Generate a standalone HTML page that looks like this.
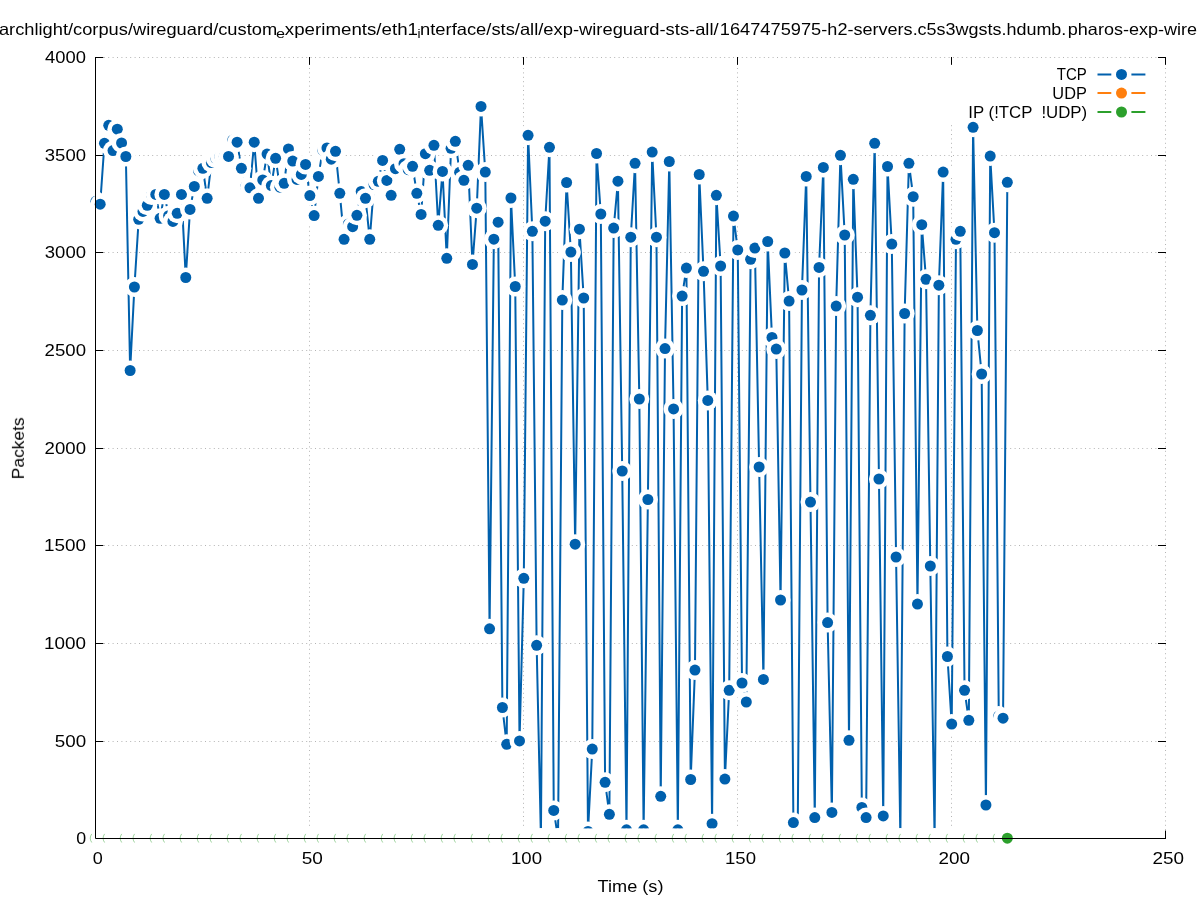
<!DOCTYPE html><html><head><meta charset="utf-8"><style>html,body{margin:0;padding:0;background:#fff;overflow:hidden}svg{display:block}text{font-family:"Liberation Sans",sans-serif;fill:#000}</style></head><body>
<svg width="1197" height="900" viewBox="0 0 1197 900">
<rect width="1197" height="900" fill="#fff"/>
<path d="M309.5 838.5V57M523.5 838.5V57M737.5 838.5V57M951.5 838.5V57M1165.5 838.5V57" stroke="#b4b4b4" stroke-width="1" stroke-dasharray="1 3.4" stroke-dashoffset="0.5" fill="none"/>
<path d="M95.5 741.5H1166M95.5 643.5H1166M95.5 545.5H1166M95.5 448.5H1166M95.5 350.5H1166M95.5 252.5H1166M95.5 155.5H1166M95.5 57.5H1166" stroke="#b4b4b4" stroke-width="1" stroke-dasharray="1 3.4" stroke-dashoffset="0.5" fill="none"/>
<rect x="944" y="65" width="212" height="58.5" fill="#fff"/>
<path d="M95 838.5H103.3M1166 838.5H1158M95 741.5H103.3M1166 741.5H1158M95 643.5H103.3M1166 643.5H1158M95 545.5H103.3M1166 545.5H1158M95 448.5H103.3M1166 448.5H1158M95 350.5H103.3M1166 350.5H1158M95 252.5H103.3M1166 252.5H1158M95 155.5H103.3M1166 155.5H1158M95 57.5H103.3M1166 57.5H1158M95.5 839V830.6M95.5 57V64.8M309.5 839V830.6M309.5 57V64.8M523.5 839V830.6M523.5 57V64.8M737.5 839V830.6M737.5 57V64.8M951.5 839V830.6M951.5 57V64.8M1165.5 839V830.6M1165.5 57V64.8" stroke="#000" stroke-width="1" fill="none"/>
<polyline fill="none" stroke="#0060ad" stroke-width="2.0" stroke-linejoin="round" points="95.90,201.30 100.18,204.20 104.46,143.30 108.74,125.30 113.02,150.60 117.30,129.20 121.57,143.00 125.85,156.50 130.13,370.50 134.41,287.00 138.69,219.30 142.97,211.40 147.25,205.30 151.53,195.00 155.81,194.40 160.09,218.30 164.36,194.40 168.64,215.70 172.92,221.40 177.20,213.30 181.48,194.40 185.76,277.50 190.04,209.40 194.32,186.40 198.60,170.80 202.88,168.30 207.15,198.30 211.43,162.50 215.71,158.30 219.99,156.50 224.27,156.40 228.55,156.40 232.83,140.00 237.11,142.20 241.39,168.30 245.66,186.70 249.94,187.80 254.22,142.20 258.50,198.30 262.78,180.00 267.06,154.10 271.34,185.60 275.62,158.30 279.90,187.20 284.18,183.30 288.46,148.90 292.73,161.10 297.01,179.40 301.29,174.40 305.57,164.40 309.85,195.60 314.13,215.60 318.41,176.40 322.69,150.00 326.97,148.00 331.25,159.20 335.52,151.30 339.80,193.30 344.08,239.30 348.36,224.00 352.64,226.70 356.92,215.30 361.20,191.50 365.48,198.30 369.76,239.30 374.03,184.50 378.31,181.30 382.59,160.40 386.87,180.40 391.15,195.30 395.43,168.70 399.71,149.30 403.99,163.70 408.27,169.70 412.55,166.30 416.83,193.30 421.10,214.40 425.38,153.70 429.66,170.30 433.94,145.30 438.22,225.30 442.50,171.40 446.78,258.30 451.06,148.30 455.34,141.30 459.62,172.30 463.89,180.30 468.17,165.30 472.45,264.40 476.73,208.20 481.01,106.40 485.29,172.10 489.57,628.80 493.85,239.20 498.13,222.20 502.40,707.50 506.68,744.30 510.96,198.00 515.24,286.50 519.52,740.90 523.80,578.30 528.08,135.30 532.36,231.30 536.64,645.30 540.92,838.00 545.20,221.20 549.47,147.30 553.75,810.40 558.03,838.00 562.31,300.10 566.59,182.50 570.87,252.10 575.15,544.20 579.43,229.20 583.71,298.00 587.99,831.50 592.26,749.10 596.54,153.50 600.82,214.00 605.10,782.30 609.38,814.30 613.66,228.10 617.94,181.20 622.22,471.00 626.50,829.80 630.77,237.20 635.05,163.30 639.33,399.00 643.61,829.80 647.89,499.50 652.17,152.10 656.45,237.20 660.73,796.30 665.01,348.60 669.29,161.50 673.56,408.90 677.84,829.80 682.12,296.10 686.40,268.10 690.68,779.50 694.96,670.10 699.24,174.50 703.52,271.30 707.80,400.40 712.08,823.70 716.36,195.30 720.63,266.00 724.91,779.10 729.19,690.30 733.47,216.10 737.75,250.00 742.03,683.00 746.31,702.00 750.59,259.30 754.87,248.10 759.14,467.00 763.42,679.40 767.70,241.50 771.98,337.40 776.26,349.10 780.54,600.00 784.82,253.00 789.10,301.10 793.38,822.60 797.66,838.00 801.93,290.00 806.21,176.40 810.49,502.10 814.77,817.60 819.05,267.40 823.33,167.40 827.61,622.60 831.89,812.40 836.17,306.10 840.45,155.30 844.72,235.00 849.00,740.30 853.28,179.30 857.56,297.20 861.84,807.40 866.12,817.60 870.40,315.30 874.68,143.30 878.96,479.00 883.24,815.90 887.51,166.50 891.79,244.10 896.07,557.00 900.35,838.00 904.63,313.50 908.91,163.30 913.19,196.70 917.47,604.10 921.75,224.70 926.03,279.30 930.30,566.00 934.58,838.00 938.86,285.20 943.14,172.10 947.42,656.50 951.70,724.10 955.98,239.30 960.26,231.30 964.54,690.30 968.82,720.30 973.09,127.30 977.37,330.50 981.65,374.00 985.93,805.00 990.21,156.10 994.49,232.70 998.77,716.00 1003.05,718.20 1007.33,182.30"/>
<circle cx="95.90" cy="201.30" r="10.0" fill="#fff"/><circle cx="95.90" cy="201.30" r="5.5" fill="#0060ad"/>
<circle cx="100.18" cy="204.20" r="10.0" fill="#fff"/><circle cx="100.18" cy="204.20" r="5.5" fill="#0060ad"/>
<circle cx="104.46" cy="143.30" r="10.0" fill="#fff"/><circle cx="104.46" cy="143.30" r="5.5" fill="#0060ad"/>
<circle cx="108.74" cy="125.30" r="10.0" fill="#fff"/><circle cx="108.74" cy="125.30" r="5.5" fill="#0060ad"/>
<circle cx="113.02" cy="150.60" r="10.0" fill="#fff"/><circle cx="113.02" cy="150.60" r="5.5" fill="#0060ad"/>
<circle cx="117.30" cy="129.20" r="10.0" fill="#fff"/><circle cx="117.30" cy="129.20" r="5.5" fill="#0060ad"/>
<circle cx="121.57" cy="143.00" r="10.0" fill="#fff"/><circle cx="121.57" cy="143.00" r="5.5" fill="#0060ad"/>
<circle cx="125.85" cy="156.50" r="10.0" fill="#fff"/><circle cx="125.85" cy="156.50" r="5.5" fill="#0060ad"/>
<circle cx="130.13" cy="370.50" r="10.0" fill="#fff"/><circle cx="130.13" cy="370.50" r="5.5" fill="#0060ad"/>
<circle cx="134.41" cy="287.00" r="10.0" fill="#fff"/><circle cx="134.41" cy="287.00" r="5.5" fill="#0060ad"/>
<circle cx="138.69" cy="219.30" r="10.0" fill="#fff"/><circle cx="138.69" cy="219.30" r="5.5" fill="#0060ad"/>
<circle cx="142.97" cy="211.40" r="10.0" fill="#fff"/><circle cx="142.97" cy="211.40" r="5.5" fill="#0060ad"/>
<circle cx="147.25" cy="205.30" r="10.0" fill="#fff"/><circle cx="147.25" cy="205.30" r="5.5" fill="#0060ad"/>
<circle cx="151.53" cy="195.00" r="10.0" fill="#fff"/><circle cx="151.53" cy="195.00" r="5.5" fill="#0060ad"/>
<circle cx="155.81" cy="194.40" r="10.0" fill="#fff"/><circle cx="155.81" cy="194.40" r="5.5" fill="#0060ad"/>
<circle cx="160.09" cy="218.30" r="10.0" fill="#fff"/><circle cx="160.09" cy="218.30" r="5.5" fill="#0060ad"/>
<circle cx="164.36" cy="194.40" r="10.0" fill="#fff"/><circle cx="164.36" cy="194.40" r="5.5" fill="#0060ad"/>
<circle cx="168.64" cy="215.70" r="10.0" fill="#fff"/><circle cx="168.64" cy="215.70" r="5.5" fill="#0060ad"/>
<circle cx="172.92" cy="221.40" r="10.0" fill="#fff"/><circle cx="172.92" cy="221.40" r="5.5" fill="#0060ad"/>
<circle cx="177.20" cy="213.30" r="10.0" fill="#fff"/><circle cx="177.20" cy="213.30" r="5.5" fill="#0060ad"/>
<circle cx="181.48" cy="194.40" r="10.0" fill="#fff"/><circle cx="181.48" cy="194.40" r="5.5" fill="#0060ad"/>
<circle cx="185.76" cy="277.50" r="10.0" fill="#fff"/><circle cx="185.76" cy="277.50" r="5.5" fill="#0060ad"/>
<circle cx="190.04" cy="209.40" r="10.0" fill="#fff"/><circle cx="190.04" cy="209.40" r="5.5" fill="#0060ad"/>
<circle cx="194.32" cy="186.40" r="10.0" fill="#fff"/><circle cx="194.32" cy="186.40" r="5.5" fill="#0060ad"/>
<circle cx="198.60" cy="170.80" r="10.0" fill="#fff"/><circle cx="198.60" cy="170.80" r="5.5" fill="#0060ad"/>
<circle cx="202.88" cy="168.30" r="10.0" fill="#fff"/><circle cx="202.88" cy="168.30" r="5.5" fill="#0060ad"/>
<circle cx="207.15" cy="198.30" r="10.0" fill="#fff"/><circle cx="207.15" cy="198.30" r="5.5" fill="#0060ad"/>
<circle cx="211.43" cy="162.50" r="10.0" fill="#fff"/><circle cx="211.43" cy="162.50" r="5.5" fill="#0060ad"/>
<circle cx="215.71" cy="158.30" r="10.0" fill="#fff"/><circle cx="215.71" cy="158.30" r="5.5" fill="#0060ad"/>
<circle cx="219.99" cy="156.50" r="10.0" fill="#fff"/><circle cx="219.99" cy="156.50" r="5.5" fill="#0060ad"/>
<circle cx="224.27" cy="156.40" r="10.0" fill="#fff"/><circle cx="224.27" cy="156.40" r="5.5" fill="#0060ad"/>
<circle cx="228.55" cy="156.40" r="10.0" fill="#fff"/><circle cx="228.55" cy="156.40" r="5.5" fill="#0060ad"/>
<circle cx="232.83" cy="140.00" r="10.0" fill="#fff"/><circle cx="232.83" cy="140.00" r="5.5" fill="#0060ad"/>
<circle cx="237.11" cy="142.20" r="10.0" fill="#fff"/><circle cx="237.11" cy="142.20" r="5.5" fill="#0060ad"/>
<circle cx="241.39" cy="168.30" r="10.0" fill="#fff"/><circle cx="241.39" cy="168.30" r="5.5" fill="#0060ad"/>
<circle cx="245.66" cy="186.70" r="10.0" fill="#fff"/><circle cx="245.66" cy="186.70" r="5.5" fill="#0060ad"/>
<circle cx="249.94" cy="187.80" r="10.0" fill="#fff"/><circle cx="249.94" cy="187.80" r="5.5" fill="#0060ad"/>
<circle cx="254.22" cy="142.20" r="10.0" fill="#fff"/><circle cx="254.22" cy="142.20" r="5.5" fill="#0060ad"/>
<circle cx="258.50" cy="198.30" r="10.0" fill="#fff"/><circle cx="258.50" cy="198.30" r="5.5" fill="#0060ad"/>
<circle cx="262.78" cy="180.00" r="10.0" fill="#fff"/><circle cx="262.78" cy="180.00" r="5.5" fill="#0060ad"/>
<circle cx="267.06" cy="154.10" r="10.0" fill="#fff"/><circle cx="267.06" cy="154.10" r="5.5" fill="#0060ad"/>
<circle cx="271.34" cy="185.60" r="10.0" fill="#fff"/><circle cx="271.34" cy="185.60" r="5.5" fill="#0060ad"/>
<circle cx="275.62" cy="158.30" r="10.0" fill="#fff"/><circle cx="275.62" cy="158.30" r="5.5" fill="#0060ad"/>
<circle cx="279.90" cy="187.20" r="10.0" fill="#fff"/><circle cx="279.90" cy="187.20" r="5.5" fill="#0060ad"/>
<circle cx="284.18" cy="183.30" r="10.0" fill="#fff"/><circle cx="284.18" cy="183.30" r="5.5" fill="#0060ad"/>
<circle cx="288.46" cy="148.90" r="10.0" fill="#fff"/><circle cx="288.46" cy="148.90" r="5.5" fill="#0060ad"/>
<circle cx="292.73" cy="161.10" r="10.0" fill="#fff"/><circle cx="292.73" cy="161.10" r="5.5" fill="#0060ad"/>
<circle cx="297.01" cy="179.40" r="10.0" fill="#fff"/><circle cx="297.01" cy="179.40" r="5.5" fill="#0060ad"/>
<circle cx="301.29" cy="174.40" r="10.0" fill="#fff"/><circle cx="301.29" cy="174.40" r="5.5" fill="#0060ad"/>
<circle cx="305.57" cy="164.40" r="10.0" fill="#fff"/><circle cx="305.57" cy="164.40" r="5.5" fill="#0060ad"/>
<circle cx="309.85" cy="195.60" r="10.0" fill="#fff"/><circle cx="309.85" cy="195.60" r="5.5" fill="#0060ad"/>
<circle cx="314.13" cy="215.60" r="10.0" fill="#fff"/><circle cx="314.13" cy="215.60" r="5.5" fill="#0060ad"/>
<circle cx="318.41" cy="176.40" r="10.0" fill="#fff"/><circle cx="318.41" cy="176.40" r="5.5" fill="#0060ad"/>
<circle cx="322.69" cy="150.00" r="10.0" fill="#fff"/><circle cx="322.69" cy="150.00" r="5.5" fill="#0060ad"/>
<circle cx="326.97" cy="148.00" r="10.0" fill="#fff"/><circle cx="326.97" cy="148.00" r="5.5" fill="#0060ad"/>
<circle cx="331.25" cy="159.20" r="10.0" fill="#fff"/><circle cx="331.25" cy="159.20" r="5.5" fill="#0060ad"/>
<circle cx="335.52" cy="151.30" r="10.0" fill="#fff"/><circle cx="335.52" cy="151.30" r="5.5" fill="#0060ad"/>
<circle cx="339.80" cy="193.30" r="10.0" fill="#fff"/><circle cx="339.80" cy="193.30" r="5.5" fill="#0060ad"/>
<circle cx="344.08" cy="239.30" r="10.0" fill="#fff"/><circle cx="344.08" cy="239.30" r="5.5" fill="#0060ad"/>
<circle cx="348.36" cy="224.00" r="10.0" fill="#fff"/><circle cx="348.36" cy="224.00" r="5.5" fill="#0060ad"/>
<circle cx="352.64" cy="226.70" r="10.0" fill="#fff"/><circle cx="352.64" cy="226.70" r="5.5" fill="#0060ad"/>
<circle cx="356.92" cy="215.30" r="10.0" fill="#fff"/><circle cx="356.92" cy="215.30" r="5.5" fill="#0060ad"/>
<circle cx="361.20" cy="191.50" r="10.0" fill="#fff"/><circle cx="361.20" cy="191.50" r="5.5" fill="#0060ad"/>
<circle cx="365.48" cy="198.30" r="10.0" fill="#fff"/><circle cx="365.48" cy="198.30" r="5.5" fill="#0060ad"/>
<circle cx="369.76" cy="239.30" r="10.0" fill="#fff"/><circle cx="369.76" cy="239.30" r="5.5" fill="#0060ad"/>
<circle cx="374.03" cy="184.50" r="10.0" fill="#fff"/><circle cx="374.03" cy="184.50" r="5.5" fill="#0060ad"/>
<circle cx="378.31" cy="181.30" r="10.0" fill="#fff"/><circle cx="378.31" cy="181.30" r="5.5" fill="#0060ad"/>
<circle cx="382.59" cy="160.40" r="10.0" fill="#fff"/><circle cx="382.59" cy="160.40" r="5.5" fill="#0060ad"/>
<circle cx="386.87" cy="180.40" r="10.0" fill="#fff"/><circle cx="386.87" cy="180.40" r="5.5" fill="#0060ad"/>
<circle cx="391.15" cy="195.30" r="10.0" fill="#fff"/><circle cx="391.15" cy="195.30" r="5.5" fill="#0060ad"/>
<circle cx="395.43" cy="168.70" r="10.0" fill="#fff"/><circle cx="395.43" cy="168.70" r="5.5" fill="#0060ad"/>
<circle cx="399.71" cy="149.30" r="10.0" fill="#fff"/><circle cx="399.71" cy="149.30" r="5.5" fill="#0060ad"/>
<circle cx="403.99" cy="163.70" r="10.0" fill="#fff"/><circle cx="403.99" cy="163.70" r="5.5" fill="#0060ad"/>
<circle cx="408.27" cy="169.70" r="10.0" fill="#fff"/><circle cx="408.27" cy="169.70" r="5.5" fill="#0060ad"/>
<circle cx="412.55" cy="166.30" r="10.0" fill="#fff"/><circle cx="412.55" cy="166.30" r="5.5" fill="#0060ad"/>
<circle cx="416.83" cy="193.30" r="10.0" fill="#fff"/><circle cx="416.83" cy="193.30" r="5.5" fill="#0060ad"/>
<circle cx="421.10" cy="214.40" r="10.0" fill="#fff"/><circle cx="421.10" cy="214.40" r="5.5" fill="#0060ad"/>
<circle cx="425.38" cy="153.70" r="10.0" fill="#fff"/><circle cx="425.38" cy="153.70" r="5.5" fill="#0060ad"/>
<circle cx="429.66" cy="170.30" r="10.0" fill="#fff"/><circle cx="429.66" cy="170.30" r="5.5" fill="#0060ad"/>
<circle cx="433.94" cy="145.30" r="10.0" fill="#fff"/><circle cx="433.94" cy="145.30" r="5.5" fill="#0060ad"/>
<circle cx="438.22" cy="225.30" r="10.0" fill="#fff"/><circle cx="438.22" cy="225.30" r="5.5" fill="#0060ad"/>
<circle cx="442.50" cy="171.40" r="10.0" fill="#fff"/><circle cx="442.50" cy="171.40" r="5.5" fill="#0060ad"/>
<circle cx="446.78" cy="258.30" r="10.0" fill="#fff"/><circle cx="446.78" cy="258.30" r="5.5" fill="#0060ad"/>
<circle cx="451.06" cy="148.30" r="10.0" fill="#fff"/><circle cx="451.06" cy="148.30" r="5.5" fill="#0060ad"/>
<circle cx="455.34" cy="141.30" r="10.0" fill="#fff"/><circle cx="455.34" cy="141.30" r="5.5" fill="#0060ad"/>
<circle cx="459.62" cy="172.30" r="10.0" fill="#fff"/><circle cx="459.62" cy="172.30" r="5.5" fill="#0060ad"/>
<circle cx="463.89" cy="180.30" r="10.0" fill="#fff"/><circle cx="463.89" cy="180.30" r="5.5" fill="#0060ad"/>
<circle cx="468.17" cy="165.30" r="10.0" fill="#fff"/><circle cx="468.17" cy="165.30" r="5.5" fill="#0060ad"/>
<circle cx="472.45" cy="264.40" r="10.0" fill="#fff"/><circle cx="472.45" cy="264.40" r="5.5" fill="#0060ad"/>
<circle cx="476.73" cy="208.20" r="10.0" fill="#fff"/><circle cx="476.73" cy="208.20" r="5.5" fill="#0060ad"/>
<circle cx="481.01" cy="106.40" r="10.0" fill="#fff"/><circle cx="481.01" cy="106.40" r="5.5" fill="#0060ad"/>
<circle cx="485.29" cy="172.10" r="10.0" fill="#fff"/><circle cx="485.29" cy="172.10" r="5.5" fill="#0060ad"/>
<circle cx="489.57" cy="628.80" r="10.0" fill="#fff"/><circle cx="489.57" cy="628.80" r="5.5" fill="#0060ad"/>
<circle cx="493.85" cy="239.20" r="10.0" fill="#fff"/><circle cx="493.85" cy="239.20" r="5.5" fill="#0060ad"/>
<circle cx="498.13" cy="222.20" r="10.0" fill="#fff"/><circle cx="498.13" cy="222.20" r="5.5" fill="#0060ad"/>
<circle cx="502.40" cy="707.50" r="10.0" fill="#fff"/><circle cx="502.40" cy="707.50" r="5.5" fill="#0060ad"/>
<circle cx="506.68" cy="744.30" r="10.0" fill="#fff"/><circle cx="506.68" cy="744.30" r="5.5" fill="#0060ad"/>
<circle cx="510.96" cy="198.00" r="10.0" fill="#fff"/><circle cx="510.96" cy="198.00" r="5.5" fill="#0060ad"/>
<circle cx="515.24" cy="286.50" r="10.0" fill="#fff"/><circle cx="515.24" cy="286.50" r="5.5" fill="#0060ad"/>
<circle cx="519.52" cy="740.90" r="10.0" fill="#fff"/><circle cx="519.52" cy="740.90" r="5.5" fill="#0060ad"/>
<circle cx="523.80" cy="578.30" r="10.0" fill="#fff"/><circle cx="523.80" cy="578.30" r="5.5" fill="#0060ad"/>
<circle cx="528.08" cy="135.30" r="10.0" fill="#fff"/><circle cx="528.08" cy="135.30" r="5.5" fill="#0060ad"/>
<circle cx="532.36" cy="231.30" r="10.0" fill="#fff"/><circle cx="532.36" cy="231.30" r="5.5" fill="#0060ad"/>
<circle cx="536.64" cy="645.30" r="10.0" fill="#fff"/><circle cx="536.64" cy="645.30" r="5.5" fill="#0060ad"/>
<circle cx="540.92" cy="838.00" r="10.0" fill="#fff"/><circle cx="540.92" cy="838.00" r="5.5" fill="#0060ad"/>
<circle cx="545.20" cy="221.20" r="10.0" fill="#fff"/><circle cx="545.20" cy="221.20" r="5.5" fill="#0060ad"/>
<circle cx="549.47" cy="147.30" r="10.0" fill="#fff"/><circle cx="549.47" cy="147.30" r="5.5" fill="#0060ad"/>
<circle cx="553.75" cy="810.40" r="10.0" fill="#fff"/><circle cx="553.75" cy="810.40" r="5.5" fill="#0060ad"/>
<circle cx="558.03" cy="838.00" r="10.0" fill="#fff"/><circle cx="558.03" cy="838.00" r="5.5" fill="#0060ad"/>
<circle cx="562.31" cy="300.10" r="10.0" fill="#fff"/><circle cx="562.31" cy="300.10" r="5.5" fill="#0060ad"/>
<circle cx="566.59" cy="182.50" r="10.0" fill="#fff"/><circle cx="566.59" cy="182.50" r="5.5" fill="#0060ad"/>
<circle cx="570.87" cy="252.10" r="10.0" fill="#fff"/><circle cx="570.87" cy="252.10" r="5.5" fill="#0060ad"/>
<circle cx="575.15" cy="544.20" r="10.0" fill="#fff"/><circle cx="575.15" cy="544.20" r="5.5" fill="#0060ad"/>
<circle cx="579.43" cy="229.20" r="10.0" fill="#fff"/><circle cx="579.43" cy="229.20" r="5.5" fill="#0060ad"/>
<circle cx="583.71" cy="298.00" r="10.0" fill="#fff"/><circle cx="583.71" cy="298.00" r="5.5" fill="#0060ad"/>
<circle cx="587.99" cy="831.50" r="10.0" fill="#fff"/><circle cx="587.99" cy="831.50" r="5.5" fill="#0060ad"/>
<circle cx="592.26" cy="749.10" r="10.0" fill="#fff"/><circle cx="592.26" cy="749.10" r="5.5" fill="#0060ad"/>
<circle cx="596.54" cy="153.50" r="10.0" fill="#fff"/><circle cx="596.54" cy="153.50" r="5.5" fill="#0060ad"/>
<circle cx="600.82" cy="214.00" r="10.0" fill="#fff"/><circle cx="600.82" cy="214.00" r="5.5" fill="#0060ad"/>
<circle cx="605.10" cy="782.30" r="10.0" fill="#fff"/><circle cx="605.10" cy="782.30" r="5.5" fill="#0060ad"/>
<circle cx="609.38" cy="814.30" r="10.0" fill="#fff"/><circle cx="609.38" cy="814.30" r="5.5" fill="#0060ad"/>
<circle cx="613.66" cy="228.10" r="10.0" fill="#fff"/><circle cx="613.66" cy="228.10" r="5.5" fill="#0060ad"/>
<circle cx="617.94" cy="181.20" r="10.0" fill="#fff"/><circle cx="617.94" cy="181.20" r="5.5" fill="#0060ad"/>
<circle cx="622.22" cy="471.00" r="10.0" fill="#fff"/><circle cx="622.22" cy="471.00" r="5.5" fill="#0060ad"/>
<circle cx="626.50" cy="829.80" r="10.0" fill="#fff"/><circle cx="626.50" cy="829.80" r="5.5" fill="#0060ad"/>
<circle cx="630.77" cy="237.20" r="10.0" fill="#fff"/><circle cx="630.77" cy="237.20" r="5.5" fill="#0060ad"/>
<circle cx="635.05" cy="163.30" r="10.0" fill="#fff"/><circle cx="635.05" cy="163.30" r="5.5" fill="#0060ad"/>
<circle cx="639.33" cy="399.00" r="10.0" fill="#fff"/><circle cx="639.33" cy="399.00" r="5.5" fill="#0060ad"/>
<circle cx="643.61" cy="829.80" r="10.0" fill="#fff"/><circle cx="643.61" cy="829.80" r="5.5" fill="#0060ad"/>
<circle cx="647.89" cy="499.50" r="10.0" fill="#fff"/><circle cx="647.89" cy="499.50" r="5.5" fill="#0060ad"/>
<circle cx="652.17" cy="152.10" r="10.0" fill="#fff"/><circle cx="652.17" cy="152.10" r="5.5" fill="#0060ad"/>
<circle cx="656.45" cy="237.20" r="10.0" fill="#fff"/><circle cx="656.45" cy="237.20" r="5.5" fill="#0060ad"/>
<circle cx="660.73" cy="796.30" r="10.0" fill="#fff"/><circle cx="660.73" cy="796.30" r="5.5" fill="#0060ad"/>
<circle cx="665.01" cy="348.60" r="10.0" fill="#fff"/><circle cx="665.01" cy="348.60" r="5.5" fill="#0060ad"/>
<circle cx="669.29" cy="161.50" r="10.0" fill="#fff"/><circle cx="669.29" cy="161.50" r="5.5" fill="#0060ad"/>
<circle cx="673.56" cy="408.90" r="10.0" fill="#fff"/><circle cx="673.56" cy="408.90" r="5.5" fill="#0060ad"/>
<circle cx="677.84" cy="829.80" r="10.0" fill="#fff"/><circle cx="677.84" cy="829.80" r="5.5" fill="#0060ad"/>
<circle cx="682.12" cy="296.10" r="10.0" fill="#fff"/><circle cx="682.12" cy="296.10" r="5.5" fill="#0060ad"/>
<circle cx="686.40" cy="268.10" r="10.0" fill="#fff"/><circle cx="686.40" cy="268.10" r="5.5" fill="#0060ad"/>
<circle cx="690.68" cy="779.50" r="10.0" fill="#fff"/><circle cx="690.68" cy="779.50" r="5.5" fill="#0060ad"/>
<circle cx="694.96" cy="670.10" r="10.0" fill="#fff"/><circle cx="694.96" cy="670.10" r="5.5" fill="#0060ad"/>
<circle cx="699.24" cy="174.50" r="10.0" fill="#fff"/><circle cx="699.24" cy="174.50" r="5.5" fill="#0060ad"/>
<circle cx="703.52" cy="271.30" r="10.0" fill="#fff"/><circle cx="703.52" cy="271.30" r="5.5" fill="#0060ad"/>
<circle cx="707.80" cy="400.40" r="10.0" fill="#fff"/><circle cx="707.80" cy="400.40" r="5.5" fill="#0060ad"/>
<circle cx="712.08" cy="823.70" r="10.0" fill="#fff"/><circle cx="712.08" cy="823.70" r="5.5" fill="#0060ad"/>
<circle cx="716.36" cy="195.30" r="10.0" fill="#fff"/><circle cx="716.36" cy="195.30" r="5.5" fill="#0060ad"/>
<circle cx="720.63" cy="266.00" r="10.0" fill="#fff"/><circle cx="720.63" cy="266.00" r="5.5" fill="#0060ad"/>
<circle cx="724.91" cy="779.10" r="10.0" fill="#fff"/><circle cx="724.91" cy="779.10" r="5.5" fill="#0060ad"/>
<circle cx="729.19" cy="690.30" r="10.0" fill="#fff"/><circle cx="729.19" cy="690.30" r="5.5" fill="#0060ad"/>
<circle cx="733.47" cy="216.10" r="10.0" fill="#fff"/><circle cx="733.47" cy="216.10" r="5.5" fill="#0060ad"/>
<circle cx="737.75" cy="250.00" r="10.0" fill="#fff"/><circle cx="737.75" cy="250.00" r="5.5" fill="#0060ad"/>
<circle cx="742.03" cy="683.00" r="10.0" fill="#fff"/><circle cx="742.03" cy="683.00" r="5.5" fill="#0060ad"/>
<circle cx="746.31" cy="702.00" r="10.0" fill="#fff"/><circle cx="746.31" cy="702.00" r="5.5" fill="#0060ad"/>
<circle cx="750.59" cy="259.30" r="10.0" fill="#fff"/><circle cx="750.59" cy="259.30" r="5.5" fill="#0060ad"/>
<circle cx="754.87" cy="248.10" r="10.0" fill="#fff"/><circle cx="754.87" cy="248.10" r="5.5" fill="#0060ad"/>
<circle cx="759.14" cy="467.00" r="10.0" fill="#fff"/><circle cx="759.14" cy="467.00" r="5.5" fill="#0060ad"/>
<circle cx="763.42" cy="679.40" r="10.0" fill="#fff"/><circle cx="763.42" cy="679.40" r="5.5" fill="#0060ad"/>
<circle cx="767.70" cy="241.50" r="10.0" fill="#fff"/><circle cx="767.70" cy="241.50" r="5.5" fill="#0060ad"/>
<circle cx="771.98" cy="337.40" r="10.0" fill="#fff"/><circle cx="771.98" cy="337.40" r="5.5" fill="#0060ad"/>
<circle cx="776.26" cy="349.10" r="10.0" fill="#fff"/><circle cx="776.26" cy="349.10" r="5.5" fill="#0060ad"/>
<circle cx="780.54" cy="600.00" r="10.0" fill="#fff"/><circle cx="780.54" cy="600.00" r="5.5" fill="#0060ad"/>
<circle cx="784.82" cy="253.00" r="10.0" fill="#fff"/><circle cx="784.82" cy="253.00" r="5.5" fill="#0060ad"/>
<circle cx="789.10" cy="301.10" r="10.0" fill="#fff"/><circle cx="789.10" cy="301.10" r="5.5" fill="#0060ad"/>
<circle cx="793.38" cy="822.60" r="10.0" fill="#fff"/><circle cx="793.38" cy="822.60" r="5.5" fill="#0060ad"/>
<circle cx="797.66" cy="838.00" r="10.0" fill="#fff"/><circle cx="797.66" cy="838.00" r="5.5" fill="#0060ad"/>
<circle cx="801.93" cy="290.00" r="10.0" fill="#fff"/><circle cx="801.93" cy="290.00" r="5.5" fill="#0060ad"/>
<circle cx="806.21" cy="176.40" r="10.0" fill="#fff"/><circle cx="806.21" cy="176.40" r="5.5" fill="#0060ad"/>
<circle cx="810.49" cy="502.10" r="10.0" fill="#fff"/><circle cx="810.49" cy="502.10" r="5.5" fill="#0060ad"/>
<circle cx="814.77" cy="817.60" r="10.0" fill="#fff"/><circle cx="814.77" cy="817.60" r="5.5" fill="#0060ad"/>
<circle cx="819.05" cy="267.40" r="10.0" fill="#fff"/><circle cx="819.05" cy="267.40" r="5.5" fill="#0060ad"/>
<circle cx="823.33" cy="167.40" r="10.0" fill="#fff"/><circle cx="823.33" cy="167.40" r="5.5" fill="#0060ad"/>
<circle cx="827.61" cy="622.60" r="10.0" fill="#fff"/><circle cx="827.61" cy="622.60" r="5.5" fill="#0060ad"/>
<circle cx="831.89" cy="812.40" r="10.0" fill="#fff"/><circle cx="831.89" cy="812.40" r="5.5" fill="#0060ad"/>
<circle cx="836.17" cy="306.10" r="10.0" fill="#fff"/><circle cx="836.17" cy="306.10" r="5.5" fill="#0060ad"/>
<circle cx="840.45" cy="155.30" r="10.0" fill="#fff"/><circle cx="840.45" cy="155.30" r="5.5" fill="#0060ad"/>
<circle cx="844.72" cy="235.00" r="10.0" fill="#fff"/><circle cx="844.72" cy="235.00" r="5.5" fill="#0060ad"/>
<circle cx="849.00" cy="740.30" r="10.0" fill="#fff"/><circle cx="849.00" cy="740.30" r="5.5" fill="#0060ad"/>
<circle cx="853.28" cy="179.30" r="10.0" fill="#fff"/><circle cx="853.28" cy="179.30" r="5.5" fill="#0060ad"/>
<circle cx="857.56" cy="297.20" r="10.0" fill="#fff"/><circle cx="857.56" cy="297.20" r="5.5" fill="#0060ad"/>
<circle cx="861.84" cy="807.40" r="10.0" fill="#fff"/><circle cx="861.84" cy="807.40" r="5.5" fill="#0060ad"/>
<circle cx="866.12" cy="817.60" r="10.0" fill="#fff"/><circle cx="866.12" cy="817.60" r="5.5" fill="#0060ad"/>
<circle cx="870.40" cy="315.30" r="10.0" fill="#fff"/><circle cx="870.40" cy="315.30" r="5.5" fill="#0060ad"/>
<circle cx="874.68" cy="143.30" r="10.0" fill="#fff"/><circle cx="874.68" cy="143.30" r="5.5" fill="#0060ad"/>
<circle cx="878.96" cy="479.00" r="10.0" fill="#fff"/><circle cx="878.96" cy="479.00" r="5.5" fill="#0060ad"/>
<circle cx="883.24" cy="815.90" r="10.0" fill="#fff"/><circle cx="883.24" cy="815.90" r="5.5" fill="#0060ad"/>
<circle cx="887.51" cy="166.50" r="10.0" fill="#fff"/><circle cx="887.51" cy="166.50" r="5.5" fill="#0060ad"/>
<circle cx="891.79" cy="244.10" r="10.0" fill="#fff"/><circle cx="891.79" cy="244.10" r="5.5" fill="#0060ad"/>
<circle cx="896.07" cy="557.00" r="10.0" fill="#fff"/><circle cx="896.07" cy="557.00" r="5.5" fill="#0060ad"/>
<circle cx="900.35" cy="838.00" r="10.0" fill="#fff"/><circle cx="900.35" cy="838.00" r="5.5" fill="#0060ad"/>
<circle cx="904.63" cy="313.50" r="10.0" fill="#fff"/><circle cx="904.63" cy="313.50" r="5.5" fill="#0060ad"/>
<circle cx="908.91" cy="163.30" r="10.0" fill="#fff"/><circle cx="908.91" cy="163.30" r="5.5" fill="#0060ad"/>
<circle cx="913.19" cy="196.70" r="10.0" fill="#fff"/><circle cx="913.19" cy="196.70" r="5.5" fill="#0060ad"/>
<circle cx="917.47" cy="604.10" r="10.0" fill="#fff"/><circle cx="917.47" cy="604.10" r="5.5" fill="#0060ad"/>
<circle cx="921.75" cy="224.70" r="10.0" fill="#fff"/><circle cx="921.75" cy="224.70" r="5.5" fill="#0060ad"/>
<circle cx="926.03" cy="279.30" r="10.0" fill="#fff"/><circle cx="926.03" cy="279.30" r="5.5" fill="#0060ad"/>
<circle cx="930.30" cy="566.00" r="10.0" fill="#fff"/><circle cx="930.30" cy="566.00" r="5.5" fill="#0060ad"/>
<circle cx="934.58" cy="838.00" r="10.0" fill="#fff"/><circle cx="934.58" cy="838.00" r="5.5" fill="#0060ad"/>
<circle cx="938.86" cy="285.20" r="10.0" fill="#fff"/><circle cx="938.86" cy="285.20" r="5.5" fill="#0060ad"/>
<circle cx="943.14" cy="172.10" r="10.0" fill="#fff"/><circle cx="943.14" cy="172.10" r="5.5" fill="#0060ad"/>
<circle cx="947.42" cy="656.50" r="10.0" fill="#fff"/><circle cx="947.42" cy="656.50" r="5.5" fill="#0060ad"/>
<circle cx="951.70" cy="724.10" r="10.0" fill="#fff"/><circle cx="951.70" cy="724.10" r="5.5" fill="#0060ad"/>
<circle cx="955.98" cy="239.30" r="10.0" fill="#fff"/><circle cx="955.98" cy="239.30" r="5.5" fill="#0060ad"/>
<circle cx="960.26" cy="231.30" r="10.0" fill="#fff"/><circle cx="960.26" cy="231.30" r="5.5" fill="#0060ad"/>
<circle cx="964.54" cy="690.30" r="10.0" fill="#fff"/><circle cx="964.54" cy="690.30" r="5.5" fill="#0060ad"/>
<circle cx="968.82" cy="720.30" r="10.0" fill="#fff"/><circle cx="968.82" cy="720.30" r="5.5" fill="#0060ad"/>
<circle cx="973.09" cy="127.30" r="10.0" fill="#fff"/><circle cx="973.09" cy="127.30" r="5.5" fill="#0060ad"/>
<circle cx="977.37" cy="330.50" r="10.0" fill="#fff"/><circle cx="977.37" cy="330.50" r="5.5" fill="#0060ad"/>
<circle cx="981.65" cy="374.00" r="10.0" fill="#fff"/><circle cx="981.65" cy="374.00" r="5.5" fill="#0060ad"/>
<circle cx="985.93" cy="805.00" r="10.0" fill="#fff"/><circle cx="985.93" cy="805.00" r="5.5" fill="#0060ad"/>
<circle cx="990.21" cy="156.10" r="10.0" fill="#fff"/><circle cx="990.21" cy="156.10" r="5.5" fill="#0060ad"/>
<circle cx="994.49" cy="232.70" r="10.0" fill="#fff"/><circle cx="994.49" cy="232.70" r="5.5" fill="#0060ad"/>
<circle cx="998.77" cy="716.00" r="10.0" fill="#fff"/><circle cx="998.77" cy="716.00" r="5.5" fill="#0060ad"/>
<circle cx="1003.05" cy="718.20" r="10.0" fill="#fff"/><circle cx="1003.05" cy="718.20" r="5.5" fill="#0060ad"/>
<circle cx="1007.33" cy="182.30" r="10.0" fill="#fff"/><circle cx="1007.33" cy="182.30" r="5.5" fill="#0060ad"/>
<circle cx="95.90" cy="838.2" r="10.0" fill="#fff"/>
<circle cx="100.18" cy="838.2" r="10.0" fill="#fff"/>
<circle cx="104.46" cy="838.2" r="10.0" fill="#fff"/>
<circle cx="108.74" cy="838.2" r="10.0" fill="#fff"/>
<circle cx="113.02" cy="838.2" r="10.0" fill="#fff"/>
<circle cx="117.30" cy="838.2" r="10.0" fill="#fff"/>
<circle cx="121.57" cy="838.2" r="10.0" fill="#fff"/>
<circle cx="125.85" cy="838.2" r="10.0" fill="#fff"/>
<circle cx="130.13" cy="838.2" r="10.0" fill="#fff"/>
<circle cx="134.41" cy="838.2" r="10.0" fill="#fff"/>
<circle cx="138.69" cy="838.2" r="10.0" fill="#fff"/>
<circle cx="142.97" cy="838.2" r="10.0" fill="#fff"/>
<circle cx="147.25" cy="838.2" r="10.0" fill="#fff"/>
<circle cx="151.53" cy="838.2" r="10.0" fill="#fff"/>
<circle cx="155.81" cy="838.2" r="10.0" fill="#fff"/>
<circle cx="160.09" cy="838.2" r="10.0" fill="#fff"/>
<circle cx="164.36" cy="838.2" r="10.0" fill="#fff"/>
<circle cx="168.64" cy="838.2" r="10.0" fill="#fff"/>
<circle cx="172.92" cy="838.2" r="10.0" fill="#fff"/>
<circle cx="177.20" cy="838.2" r="10.0" fill="#fff"/>
<circle cx="181.48" cy="838.2" r="10.0" fill="#fff"/>
<circle cx="185.76" cy="838.2" r="10.0" fill="#fff"/>
<circle cx="190.04" cy="838.2" r="10.0" fill="#fff"/>
<circle cx="194.32" cy="838.2" r="10.0" fill="#fff"/>
<circle cx="198.60" cy="838.2" r="10.0" fill="#fff"/>
<circle cx="202.88" cy="838.2" r="10.0" fill="#fff"/>
<circle cx="207.15" cy="838.2" r="10.0" fill="#fff"/>
<circle cx="211.43" cy="838.2" r="10.0" fill="#fff"/>
<circle cx="215.71" cy="838.2" r="10.0" fill="#fff"/>
<circle cx="219.99" cy="838.2" r="10.0" fill="#fff"/>
<circle cx="224.27" cy="838.2" r="10.0" fill="#fff"/>
<circle cx="228.55" cy="838.2" r="10.0" fill="#fff"/>
<circle cx="232.83" cy="838.2" r="10.0" fill="#fff"/>
<circle cx="237.11" cy="838.2" r="10.0" fill="#fff"/>
<circle cx="241.39" cy="838.2" r="10.0" fill="#fff"/>
<circle cx="245.66" cy="838.2" r="10.0" fill="#fff"/>
<circle cx="249.94" cy="838.2" r="10.0" fill="#fff"/>
<circle cx="254.22" cy="838.2" r="10.0" fill="#fff"/>
<circle cx="258.50" cy="838.2" r="10.0" fill="#fff"/>
<circle cx="262.78" cy="838.2" r="10.0" fill="#fff"/>
<circle cx="267.06" cy="838.2" r="10.0" fill="#fff"/>
<circle cx="271.34" cy="838.2" r="10.0" fill="#fff"/>
<circle cx="275.62" cy="838.2" r="10.0" fill="#fff"/>
<circle cx="279.90" cy="838.2" r="10.0" fill="#fff"/>
<circle cx="284.18" cy="838.2" r="10.0" fill="#fff"/>
<circle cx="288.46" cy="838.2" r="10.0" fill="#fff"/>
<circle cx="292.73" cy="838.2" r="10.0" fill="#fff"/>
<circle cx="297.01" cy="838.2" r="10.0" fill="#fff"/>
<circle cx="301.29" cy="838.2" r="10.0" fill="#fff"/>
<circle cx="305.57" cy="838.2" r="10.0" fill="#fff"/>
<circle cx="309.85" cy="838.2" r="10.0" fill="#fff"/>
<circle cx="314.13" cy="838.2" r="10.0" fill="#fff"/>
<circle cx="318.41" cy="838.2" r="10.0" fill="#fff"/>
<circle cx="322.69" cy="838.2" r="10.0" fill="#fff"/>
<circle cx="326.97" cy="838.2" r="10.0" fill="#fff"/>
<circle cx="331.25" cy="838.2" r="10.0" fill="#fff"/>
<circle cx="335.52" cy="838.2" r="10.0" fill="#fff"/>
<circle cx="339.80" cy="838.2" r="10.0" fill="#fff"/>
<circle cx="344.08" cy="838.2" r="10.0" fill="#fff"/>
<circle cx="348.36" cy="838.2" r="10.0" fill="#fff"/>
<circle cx="352.64" cy="838.2" r="10.0" fill="#fff"/>
<circle cx="356.92" cy="838.2" r="10.0" fill="#fff"/>
<circle cx="361.20" cy="838.2" r="10.0" fill="#fff"/>
<circle cx="365.48" cy="838.2" r="10.0" fill="#fff"/>
<circle cx="369.76" cy="838.2" r="10.0" fill="#fff"/>
<circle cx="374.03" cy="838.2" r="10.0" fill="#fff"/>
<circle cx="378.31" cy="838.2" r="10.0" fill="#fff"/>
<circle cx="382.59" cy="838.2" r="10.0" fill="#fff"/>
<circle cx="386.87" cy="838.2" r="10.0" fill="#fff"/>
<circle cx="391.15" cy="838.2" r="10.0" fill="#fff"/>
<circle cx="395.43" cy="838.2" r="10.0" fill="#fff"/>
<circle cx="399.71" cy="838.2" r="10.0" fill="#fff"/>
<circle cx="403.99" cy="838.2" r="10.0" fill="#fff"/>
<circle cx="408.27" cy="838.2" r="10.0" fill="#fff"/>
<circle cx="412.55" cy="838.2" r="10.0" fill="#fff"/>
<circle cx="416.83" cy="838.2" r="10.0" fill="#fff"/>
<circle cx="421.10" cy="838.2" r="10.0" fill="#fff"/>
<circle cx="425.38" cy="838.2" r="10.0" fill="#fff"/>
<circle cx="429.66" cy="838.2" r="10.0" fill="#fff"/>
<circle cx="433.94" cy="838.2" r="10.0" fill="#fff"/>
<circle cx="438.22" cy="838.2" r="10.0" fill="#fff"/>
<circle cx="442.50" cy="838.2" r="10.0" fill="#fff"/>
<circle cx="446.78" cy="838.2" r="10.0" fill="#fff"/>
<circle cx="451.06" cy="838.2" r="10.0" fill="#fff"/>
<circle cx="455.34" cy="838.2" r="10.0" fill="#fff"/>
<circle cx="459.62" cy="838.2" r="10.0" fill="#fff"/>
<circle cx="463.89" cy="838.2" r="10.0" fill="#fff"/>
<circle cx="468.17" cy="838.2" r="10.0" fill="#fff"/>
<circle cx="472.45" cy="838.2" r="10.0" fill="#fff"/>
<circle cx="476.73" cy="838.2" r="10.0" fill="#fff"/>
<circle cx="481.01" cy="838.2" r="10.0" fill="#fff"/>
<circle cx="485.29" cy="838.2" r="10.0" fill="#fff"/>
<circle cx="489.57" cy="838.2" r="10.0" fill="#fff"/>
<circle cx="493.85" cy="838.2" r="10.0" fill="#fff"/>
<circle cx="498.13" cy="838.2" r="10.0" fill="#fff"/>
<circle cx="502.40" cy="838.2" r="10.0" fill="#fff"/>
<circle cx="506.68" cy="838.2" r="10.0" fill="#fff"/>
<circle cx="510.96" cy="838.2" r="10.0" fill="#fff"/>
<circle cx="515.24" cy="838.2" r="10.0" fill="#fff"/>
<circle cx="519.52" cy="838.2" r="10.0" fill="#fff"/>
<circle cx="523.80" cy="838.2" r="10.0" fill="#fff"/>
<circle cx="528.08" cy="838.2" r="10.0" fill="#fff"/>
<circle cx="532.36" cy="838.2" r="10.0" fill="#fff"/>
<circle cx="536.64" cy="838.2" r="10.0" fill="#fff"/>
<circle cx="540.92" cy="838.2" r="10.0" fill="#fff"/>
<circle cx="545.20" cy="838.2" r="10.0" fill="#fff"/>
<circle cx="549.47" cy="838.2" r="10.0" fill="#fff"/>
<circle cx="553.75" cy="838.2" r="10.0" fill="#fff"/>
<circle cx="558.03" cy="838.2" r="10.0" fill="#fff"/>
<circle cx="562.31" cy="838.2" r="10.0" fill="#fff"/>
<circle cx="566.59" cy="838.2" r="10.0" fill="#fff"/>
<circle cx="570.87" cy="838.2" r="10.0" fill="#fff"/>
<circle cx="575.15" cy="838.2" r="10.0" fill="#fff"/>
<circle cx="579.43" cy="838.2" r="10.0" fill="#fff"/>
<circle cx="583.71" cy="838.2" r="10.0" fill="#fff"/>
<circle cx="587.99" cy="838.2" r="10.0" fill="#fff"/>
<circle cx="592.26" cy="838.2" r="10.0" fill="#fff"/>
<circle cx="596.54" cy="838.2" r="10.0" fill="#fff"/>
<circle cx="600.82" cy="838.2" r="10.0" fill="#fff"/>
<circle cx="605.10" cy="838.2" r="10.0" fill="#fff"/>
<circle cx="609.38" cy="838.2" r="10.0" fill="#fff"/>
<circle cx="613.66" cy="838.2" r="10.0" fill="#fff"/>
<circle cx="617.94" cy="838.2" r="10.0" fill="#fff"/>
<circle cx="622.22" cy="838.2" r="10.0" fill="#fff"/>
<circle cx="626.50" cy="838.2" r="10.0" fill="#fff"/>
<circle cx="630.77" cy="838.2" r="10.0" fill="#fff"/>
<circle cx="635.05" cy="838.2" r="10.0" fill="#fff"/>
<circle cx="639.33" cy="838.2" r="10.0" fill="#fff"/>
<circle cx="643.61" cy="838.2" r="10.0" fill="#fff"/>
<circle cx="647.89" cy="838.2" r="10.0" fill="#fff"/>
<circle cx="652.17" cy="838.2" r="10.0" fill="#fff"/>
<circle cx="656.45" cy="838.2" r="10.0" fill="#fff"/>
<circle cx="660.73" cy="838.2" r="10.0" fill="#fff"/>
<circle cx="665.01" cy="838.2" r="10.0" fill="#fff"/>
<circle cx="669.29" cy="838.2" r="10.0" fill="#fff"/>
<circle cx="673.56" cy="838.2" r="10.0" fill="#fff"/>
<circle cx="677.84" cy="838.2" r="10.0" fill="#fff"/>
<circle cx="682.12" cy="838.2" r="10.0" fill="#fff"/>
<circle cx="686.40" cy="838.2" r="10.0" fill="#fff"/>
<circle cx="690.68" cy="838.2" r="10.0" fill="#fff"/>
<circle cx="694.96" cy="838.2" r="10.0" fill="#fff"/>
<circle cx="699.24" cy="838.2" r="10.0" fill="#fff"/>
<circle cx="703.52" cy="838.2" r="10.0" fill="#fff"/>
<circle cx="707.80" cy="838.2" r="10.0" fill="#fff"/>
<circle cx="712.08" cy="838.2" r="10.0" fill="#fff"/>
<circle cx="716.36" cy="838.2" r="10.0" fill="#fff"/>
<circle cx="720.63" cy="838.2" r="10.0" fill="#fff"/>
<circle cx="724.91" cy="838.2" r="10.0" fill="#fff"/>
<circle cx="729.19" cy="838.2" r="10.0" fill="#fff"/>
<circle cx="733.47" cy="838.2" r="10.0" fill="#fff"/>
<circle cx="737.75" cy="838.2" r="10.0" fill="#fff"/>
<circle cx="742.03" cy="838.2" r="10.0" fill="#fff"/>
<circle cx="746.31" cy="838.2" r="10.0" fill="#fff"/>
<circle cx="750.59" cy="838.2" r="10.0" fill="#fff"/>
<circle cx="754.87" cy="838.2" r="10.0" fill="#fff"/>
<circle cx="759.14" cy="838.2" r="10.0" fill="#fff"/>
<circle cx="763.42" cy="838.2" r="10.0" fill="#fff"/>
<circle cx="767.70" cy="838.2" r="10.0" fill="#fff"/>
<circle cx="771.98" cy="838.2" r="10.0" fill="#fff"/>
<circle cx="776.26" cy="838.2" r="10.0" fill="#fff"/>
<circle cx="780.54" cy="838.2" r="10.0" fill="#fff"/>
<circle cx="784.82" cy="838.2" r="10.0" fill="#fff"/>
<circle cx="789.10" cy="838.2" r="10.0" fill="#fff"/>
<circle cx="793.38" cy="838.2" r="10.0" fill="#fff"/>
<circle cx="797.66" cy="838.2" r="10.0" fill="#fff"/>
<circle cx="801.93" cy="838.2" r="10.0" fill="#fff"/>
<circle cx="806.21" cy="838.2" r="10.0" fill="#fff"/>
<circle cx="810.49" cy="838.2" r="10.0" fill="#fff"/>
<circle cx="814.77" cy="838.2" r="10.0" fill="#fff"/>
<circle cx="819.05" cy="838.2" r="10.0" fill="#fff"/>
<circle cx="823.33" cy="838.2" r="10.0" fill="#fff"/>
<circle cx="827.61" cy="838.2" r="10.0" fill="#fff"/>
<circle cx="831.89" cy="838.2" r="10.0" fill="#fff"/>
<circle cx="836.17" cy="838.2" r="10.0" fill="#fff"/>
<circle cx="840.45" cy="838.2" r="10.0" fill="#fff"/>
<circle cx="844.72" cy="838.2" r="10.0" fill="#fff"/>
<circle cx="849.00" cy="838.2" r="10.0" fill="#fff"/>
<circle cx="853.28" cy="838.2" r="10.0" fill="#fff"/>
<circle cx="857.56" cy="838.2" r="10.0" fill="#fff"/>
<circle cx="861.84" cy="838.2" r="10.0" fill="#fff"/>
<circle cx="866.12" cy="838.2" r="10.0" fill="#fff"/>
<circle cx="870.40" cy="838.2" r="10.0" fill="#fff"/>
<circle cx="874.68" cy="838.2" r="10.0" fill="#fff"/>
<circle cx="878.96" cy="838.2" r="10.0" fill="#fff"/>
<circle cx="883.24" cy="838.2" r="10.0" fill="#fff"/>
<circle cx="887.51" cy="838.2" r="10.0" fill="#fff"/>
<circle cx="891.79" cy="838.2" r="10.0" fill="#fff"/>
<circle cx="896.07" cy="838.2" r="10.0" fill="#fff"/>
<circle cx="900.35" cy="838.2" r="10.0" fill="#fff"/>
<circle cx="904.63" cy="838.2" r="10.0" fill="#fff"/>
<circle cx="908.91" cy="838.2" r="10.0" fill="#fff"/>
<circle cx="913.19" cy="838.2" r="10.0" fill="#fff"/>
<circle cx="917.47" cy="838.2" r="10.0" fill="#fff"/>
<circle cx="921.75" cy="838.2" r="10.0" fill="#fff"/>
<circle cx="926.03" cy="838.2" r="10.0" fill="#fff"/>
<circle cx="930.30" cy="838.2" r="10.0" fill="#fff"/>
<circle cx="934.58" cy="838.2" r="10.0" fill="#fff"/>
<circle cx="938.86" cy="838.2" r="10.0" fill="#fff"/>
<circle cx="943.14" cy="838.2" r="10.0" fill="#fff"/>
<circle cx="947.42" cy="838.2" r="10.0" fill="#fff"/>
<circle cx="951.70" cy="838.2" r="10.0" fill="#fff"/>
<circle cx="955.98" cy="838.2" r="10.0" fill="#fff"/>
<circle cx="960.26" cy="838.2" r="10.0" fill="#fff"/>
<circle cx="964.54" cy="838.2" r="10.0" fill="#fff"/>
<circle cx="968.82" cy="838.2" r="10.0" fill="#fff"/>
<circle cx="973.09" cy="838.2" r="10.0" fill="#fff"/>
<circle cx="977.37" cy="838.2" r="10.0" fill="#fff"/>
<circle cx="981.65" cy="838.2" r="10.0" fill="#fff"/>
<circle cx="985.93" cy="838.2" r="10.0" fill="#fff"/>
<circle cx="990.21" cy="838.2" r="10.0" fill="#fff"/>
<circle cx="994.49" cy="838.2" r="10.0" fill="#fff"/>
<circle cx="998.77" cy="838.2" r="10.0" fill="#fff"/>
<circle cx="1003.05" cy="838.2" r="10.0" fill="#fff"/>
<circle cx="1007.33" cy="838.2" r="10.0" fill="#fff"/><circle cx="1007.33" cy="838.2" r="5.5" fill="#2ca02c"/>
<path d="M91.76 833.90A7.5 7.5 0 0 0 91.76 842.50M104.59 833.90A7.5 7.5 0 0 0 104.59 842.50M121.71 833.90A7.5 7.5 0 0 0 121.71 842.50M134.55 833.90A7.5 7.5 0 0 0 134.55 842.50M151.66 833.90A7.5 7.5 0 0 0 151.66 842.50M164.50 833.90A7.5 7.5 0 0 0 164.50 842.50M181.62 833.90A7.5 7.5 0 0 0 181.62 842.50M198.73 833.90A7.5 7.5 0 0 0 198.73 842.50M211.57 833.90A7.5 7.5 0 0 0 211.57 842.50M228.68 833.90A7.5 7.5 0 0 0 228.68 842.50M241.52 833.90A7.5 7.5 0 0 0 241.52 842.50M258.64 833.90A7.5 7.5 0 0 0 258.64 842.50M275.75 833.90A7.5 7.5 0 0 0 275.75 842.50M288.59 833.90A7.5 7.5 0 0 0 288.59 842.50M305.71 833.90A7.5 7.5 0 0 0 305.71 842.50M318.54 833.90A7.5 7.5 0 0 0 318.54 842.50M335.66 833.90A7.5 7.5 0 0 0 335.66 842.50M348.50 833.90A7.5 7.5 0 0 0 348.50 842.50M365.61 833.90A7.5 7.5 0 0 0 365.61 842.50M382.73 833.90A7.5 7.5 0 0 0 382.73 842.50M395.57 833.90A7.5 7.5 0 0 0 395.57 842.50M412.68 833.90A7.5 7.5 0 0 0 412.68 842.50M425.52 833.90A7.5 7.5 0 0 0 425.52 842.50M442.63 833.90A7.5 7.5 0 0 0 442.63 842.50M455.47 833.90A7.5 7.5 0 0 0 455.47 842.50M472.59 833.90A7.5 7.5 0 0 0 472.59 842.50M489.70 833.90A7.5 7.5 0 0 0 489.70 842.50M502.54 833.90A7.5 7.5 0 0 0 502.54 842.50M519.66 833.90A7.5 7.5 0 0 0 519.66 842.50M532.49 833.90A7.5 7.5 0 0 0 532.49 842.50M549.61 833.90A7.5 7.5 0 0 0 549.61 842.50M566.73 833.90A7.5 7.5 0 0 0 566.73 842.50M579.56 833.90A7.5 7.5 0 0 0 579.56 842.50M596.68 833.90A7.5 7.5 0 0 0 596.68 842.50M609.52 833.90A7.5 7.5 0 0 0 609.52 842.50M626.63 833.90A7.5 7.5 0 0 0 626.63 842.50M639.47 833.90A7.5 7.5 0 0 0 639.47 842.50M656.58 833.90A7.5 7.5 0 0 0 656.58 842.50M673.70 833.90A7.5 7.5 0 0 0 673.70 842.50M686.54 833.90A7.5 7.5 0 0 0 686.54 842.50M703.65 833.90A7.5 7.5 0 0 0 703.65 842.50M716.49 833.90A7.5 7.5 0 0 0 716.49 842.50M733.61 833.90A7.5 7.5 0 0 0 733.61 842.50M750.72 833.90A7.5 7.5 0 0 0 750.72 842.50M763.56 833.90A7.5 7.5 0 0 0 763.56 842.50M780.68 833.90A7.5 7.5 0 0 0 780.68 842.50M793.51 833.90A7.5 7.5 0 0 0 793.51 842.50M810.63 833.90A7.5 7.5 0 0 0 810.63 842.50M823.47 833.90A7.5 7.5 0 0 0 823.47 842.50M840.58 833.90A7.5 7.5 0 0 0 840.58 842.50M857.70 833.90A7.5 7.5 0 0 0 857.70 842.50M870.53 833.90A7.5 7.5 0 0 0 870.53 842.50M887.65 833.90A7.5 7.5 0 0 0 887.65 842.50M900.49 833.90A7.5 7.5 0 0 0 900.49 842.50M917.60 833.90A7.5 7.5 0 0 0 917.60 842.50M930.44 833.90A7.5 7.5 0 0 0 930.44 842.50M947.56 833.90A7.5 7.5 0 0 0 947.56 842.50M964.67 833.90A7.5 7.5 0 0 0 964.67 842.50M977.51 833.90A7.5 7.5 0 0 0 977.51 842.50M994.63 833.90A7.5 7.5 0 0 0 994.63 842.50" stroke="#2ca02c" stroke-width="0.9" stroke-opacity="0.5" fill="none"/>
<path d="M95.5 57V838.5H1166" stroke="#000" stroke-width="1" fill="none"/>
<g opacity="0.999">
<text x="76.26" y="843.90" font-size="16.6" textLength="9.93" lengthAdjust="spacingAndGlyphs" xml:space="preserve">0</text>
<text x="54.81" y="746.90" font-size="16.6" textLength="31.37" lengthAdjust="spacingAndGlyphs" xml:space="preserve">500</text>
<text x="44.02" y="648.90" font-size="16.6" textLength="42.00" lengthAdjust="spacingAndGlyphs" xml:space="preserve">1000</text>
<text x="44.02" y="550.90" font-size="16.6" textLength="42.00" lengthAdjust="spacingAndGlyphs" xml:space="preserve">1500</text>
<text x="44.60" y="453.90" font-size="16.6" textLength="41.40" lengthAdjust="spacingAndGlyphs" xml:space="preserve">2000</text>
<text x="44.60" y="355.90" font-size="16.6" textLength="41.40" lengthAdjust="spacingAndGlyphs" xml:space="preserve">2500</text>
<text x="44.83" y="257.90" font-size="16.6" textLength="41.17" lengthAdjust="spacingAndGlyphs" xml:space="preserve">3000</text>
<text x="44.83" y="160.90" font-size="16.6" textLength="41.17" lengthAdjust="spacingAndGlyphs" xml:space="preserve">3500</text>
<text x="45.06" y="62.90" font-size="16.6" textLength="40.94" lengthAdjust="spacingAndGlyphs" xml:space="preserve">4000</text>
<text x="92.85" y="863.70" font-size="16.6" textLength="10.04" lengthAdjust="spacingAndGlyphs" xml:space="preserve">0</text>
<text x="301.80" y="863.70" font-size="16.6" textLength="21.17" lengthAdjust="spacingAndGlyphs" xml:space="preserve">50</text>
<text x="511.04" y="863.70" font-size="16.6" textLength="31.03" lengthAdjust="spacingAndGlyphs" xml:space="preserve">100</text>
<text x="725.04" y="863.70" font-size="16.6" textLength="31.03" lengthAdjust="spacingAndGlyphs" xml:space="preserve">150</text>
<text x="938.59" y="863.70" font-size="16.6" textLength="31.49" lengthAdjust="spacingAndGlyphs" xml:space="preserve">200</text>
<text x="1152.59" y="863.70" font-size="16.6" textLength="31.49" lengthAdjust="spacingAndGlyphs" xml:space="preserve">250</text>
<text x="597.57" y="892.20" font-size="17" textLength="65.89" lengthAdjust="spacingAndGlyphs" xml:space="preserve">Time (s)</text>
<g transform="translate(23.9,477.8) rotate(-90)"><text x="-1.44" y="0.00" font-size="17" textLength="62.02" lengthAdjust="spacingAndGlyphs" xml:space="preserve">Packets</text></g>
<text x="-1.07" y="34.75" font-size="16.5" textLength="278.17" lengthAdjust="spacingAndGlyphs" xml:space="preserve">archlight/corpus/wireguard/custom</text>
<text x="275.98" y="38.20" font-size="13.5" textLength="9.06" lengthAdjust="spacingAndGlyphs" xml:space="preserve">e</text>
<text x="284.87" y="34.75" font-size="16.5" textLength="133.13" lengthAdjust="spacingAndGlyphs" xml:space="preserve">xperiments/eth1</text>
<text x="417.6" y="38.2" font-size="13.5">i</text>
<text x="420.08" y="34.75" font-size="16.5" textLength="298.51" lengthAdjust="spacingAndGlyphs" xml:space="preserve">nterface/sts/all/exp-wireguard-sts-all/</text>
<text x="719.77" y="34.75" font-size="16.5" textLength="101.46" lengthAdjust="spacingAndGlyphs" xml:space="preserve">1647475975</text>
<text x="821.33" y="34.75" font-size="16.5" textLength="96.33" lengthAdjust="spacingAndGlyphs" xml:space="preserve">-h2-servers.</text>
<text x="917.54" y="34.75" font-size="16.5" textLength="148.84" lengthAdjust="spacingAndGlyphs" xml:space="preserve">c5s3wgsts.hdumb.</text>
<text x="1067.80" y="34.75" font-size="16.5" textLength="129.27" lengthAdjust="spacingAndGlyphs" xml:space="preserve">pharos-exp-wire</text>
<text x="1056.75" y="80.10" font-size="17" textLength="30.06" lengthAdjust="spacingAndGlyphs" xml:space="preserve">TCP</text>
<text x="1052.35" y="98.90" font-size="17" textLength="34.51" lengthAdjust="spacingAndGlyphs" xml:space="preserve">UDP</text>
<text x="968.32" y="117.90" font-size="17" textLength="118.85" lengthAdjust="spacingAndGlyphs" xml:space="preserve">IP (!TCP  !UDP)</text>
</g>
<path d="M1097.5 74.40H1111.3M1131.4 74.40H1145.4" stroke="#0060ad" stroke-width="2"/>
<circle cx="1121.5" cy="74.40" r="5.5" fill="#0060ad"/>
<path d="M1097.5 93.10H1111.3M1131.4 93.10H1145.4" stroke="#ff7f0e" stroke-width="2"/>
<circle cx="1121.5" cy="93.10" r="5.5" fill="#ff7f0e"/>
<path d="M1097.5 112.00H1111.3M1131.4 112.00H1145.4" stroke="#2ca02c" stroke-width="2"/>
<circle cx="1121.5" cy="112.00" r="5.5" fill="#2ca02c"/>
</svg></body></html>
